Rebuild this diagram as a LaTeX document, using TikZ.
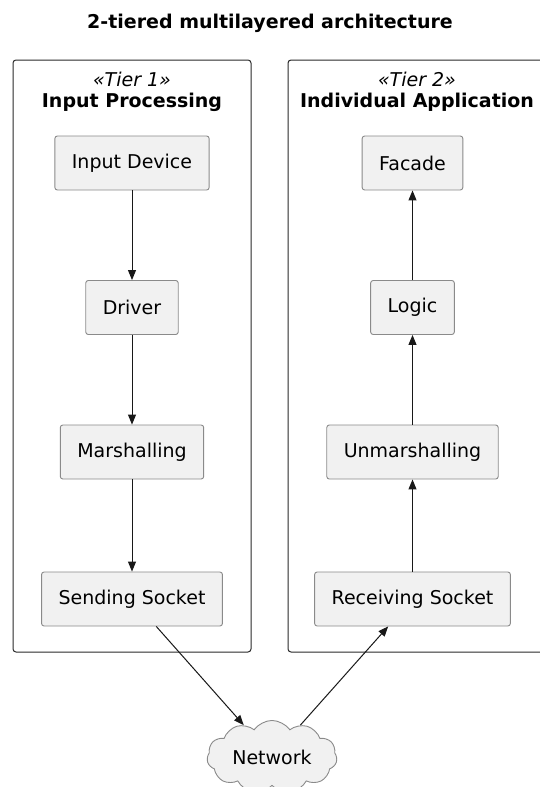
\documentclass[tikz,border=0pt]{standalone}
\usepackage{fontspec}
\setmainfont{DejaVu Sans}
\usetikzlibrary{arrows.meta,shapes.symbols}
\definecolor{boxfill}{HTML}{F1F1F1}
\definecolor{boxline}{HTML}{8A8A8A}
\definecolor{frameline}{HTML}{2A2A2A}
\definecolor{arrowline}{HTML}{181818}
\tikzset{
  comp/.style={draw=boxline, fill=boxfill, line width=0.9pt, rounded corners=2.5pt,
    minimum height=54pt, inner xsep=17pt, font=\fontsize{19}{21}\selectfont, text=black},
  tierframe/.style={draw=frameline, line width=1pt, rounded corners=3pt, inner sep=0pt},
  flow/.style={draw=arrowline, line width=1pt, -{Triangle[length=10pt,width=8pt]}},
  netcloud/.style={cloud, cloud puffs=11, cloud puff arc=110, aspect=1.9, draw=boxline,
    fill=boxfill, line width=0.9pt, minimum width=130pt, minimum height=72pt, inner sep=0pt,
    font=\fontsize{19}{21}\selectfont},
  lbl/.style={font=\fontsize{19}{21}\selectfont, inner sep=0pt},
}
\begin{document}
\begin{tikzpicture}[x=1pt,y=-1pt]
\clip (0,0) rectangle (540,787);
\useasboundingbox (0,0) rectangle (540,787);
\fill[white] (0,0) rectangle (540,787);

\node[lbl] (title) at (270,23) {\bfseries 2-tiered multilayered architecture};

\node[tierframe, minimum width=238pt, minimum height=592pt] (tier1) at (132,356) {};
\node[tierframe, minimum width=258pt, minimum height=592pt] (tier2) at (417,356) {};

\node[lbl] (st1) at (132,79) {\itshape «Tier 1»};
\node[lbl] (nm1) at (132,102) {\bfseries Input Processing};
\node[lbl] (st2) at (417,79) {\itshape «Tier 2»};
\node[lbl] (nm2) at (417,102) {\bfseries Individual Application};

\node[comp] (in)  at (132,163)   {Input Device};
\node[comp] (drv) at (132,307.5) {Driver};
\node[comp] (mar) at (132,452)   {Marshalling};
\node[comp] (ss)  at (132,599)   {Sending Socket};

\node[comp] (fac) at (412.5,163)   {Facade};
\node[comp] (log) at (412.5,307.5) {Logic};
\node[comp] (unm) at (412.5,452)   {Unmarshalling};
\node[comp] (rs)  at (412.5,599)   {Receiving Socket};

\node[netcloud] (net) at (272,757) {Network};

\draw[flow] (in) -- (drv);
\draw[flow] (drv) -- (mar);
\draw[flow] (mar) -- (ss);
\draw[flow] (rs) -- (unm);
\draw[flow] (unm) -- (log);
\draw[flow] (log) -- (fac);
\draw[flow] (ss) -- (net);
\draw[flow] (net) -- (rs);
\end{tikzpicture}
\end{document}
